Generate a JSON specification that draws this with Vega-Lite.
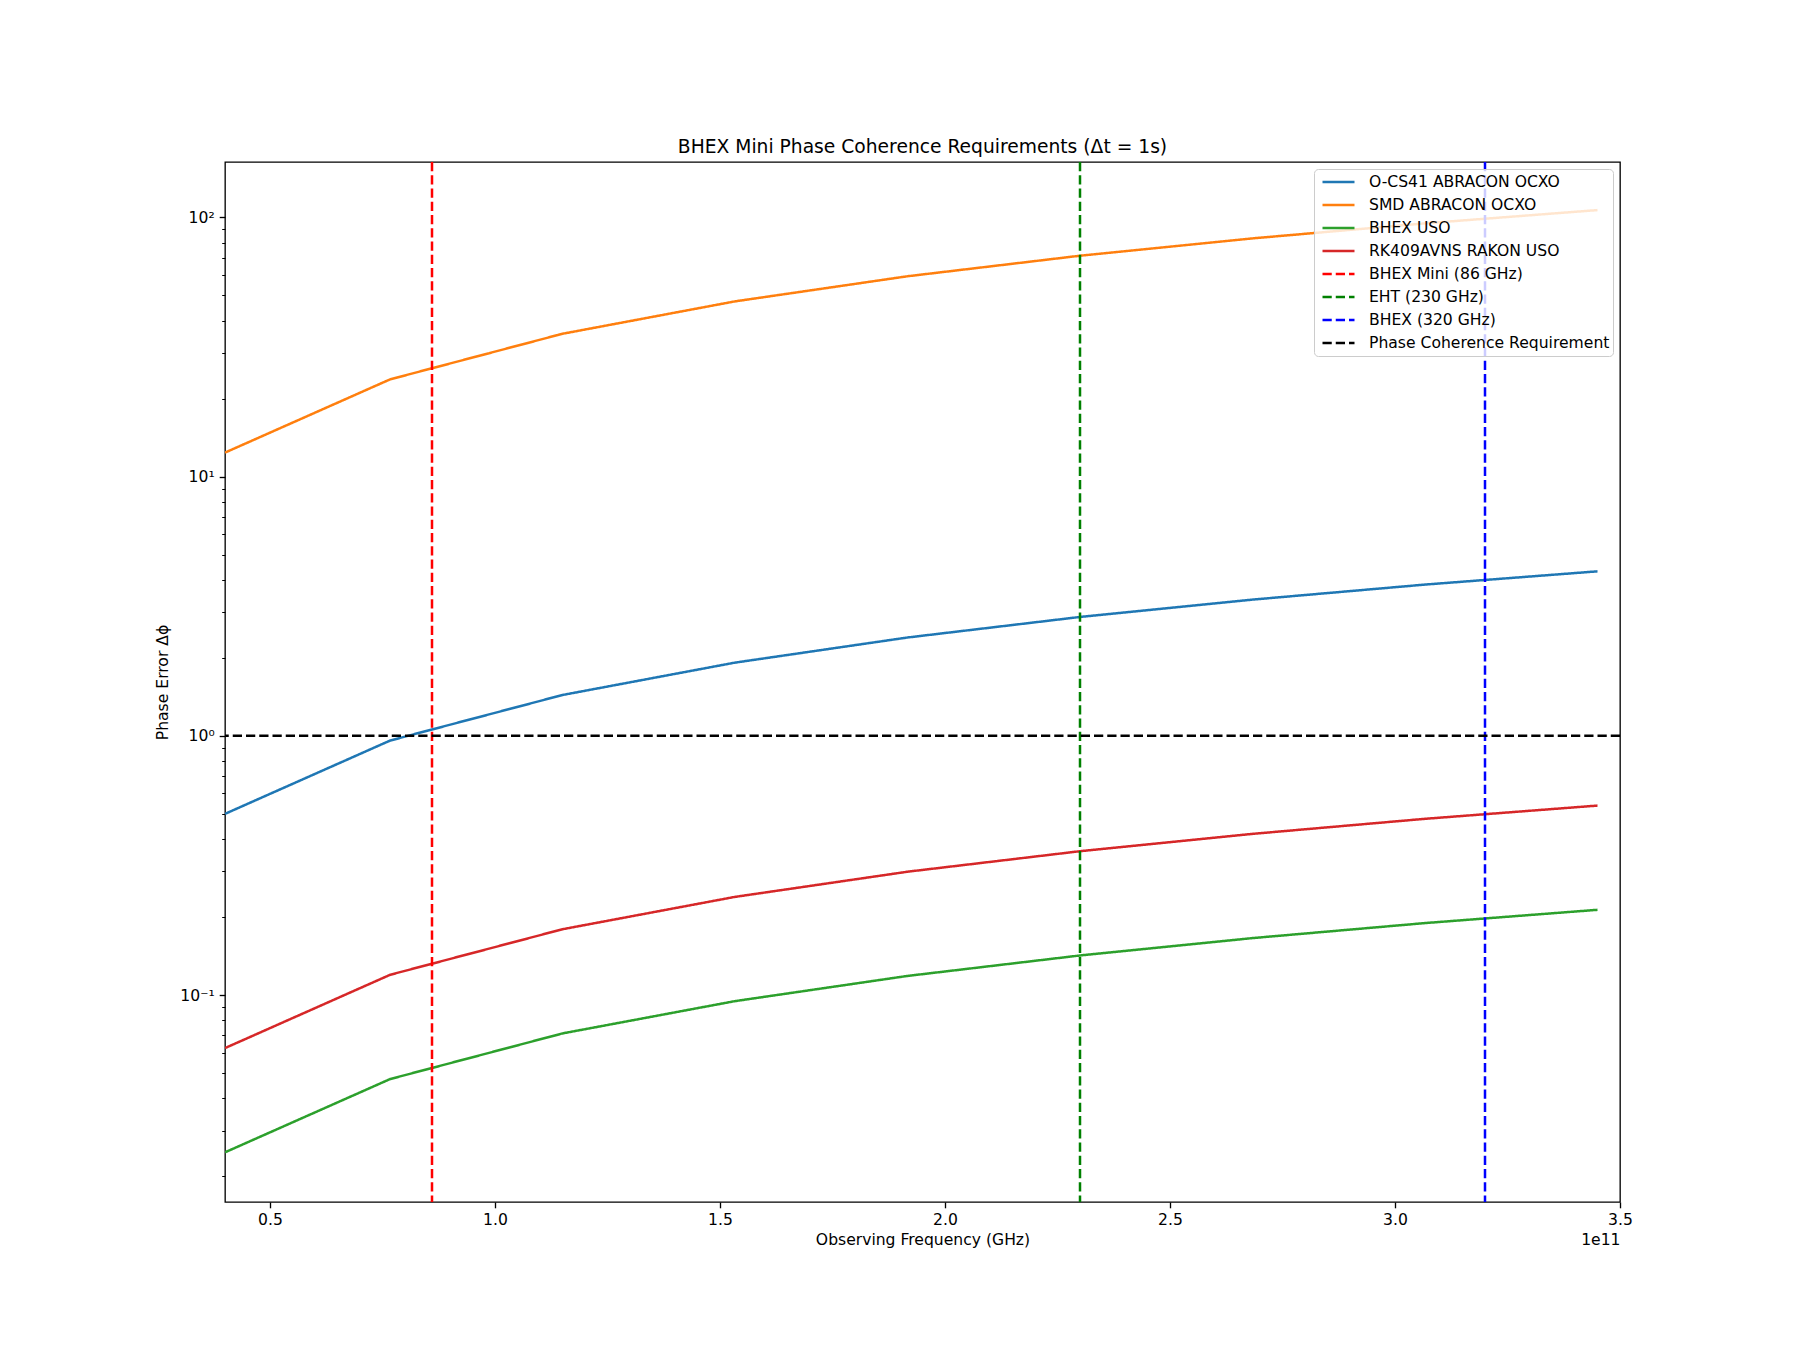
{
  "$schema": "https://vega.github.io/schema/vega-lite/v6.json",
  "width": 1395,
  "height": 1040,
  "autosize": {"type": "none"},
  "padding": {"left": 225, "top": 162, "right": 180, "bottom": 148},
  "background": "white",
  "title": {
    "text": "BHEX Mini Phase Coherence Requirements (Δt = 1s)",
    "font": "DejaVu Sans",
    "fontSize": 18.7,
    "fontWeight": "normal",
    "color": "black",
    "anchor": "middle",
    "offset": 4
  },
  "config": {
    "view": {"stroke": "black", "strokeWidth": 1.33},
    "axis": {
      "labelFont": "DejaVu Sans",
      "titleFont": "DejaVu Sans",
      "labelFontSize": 15.6,
      "titleFontSize": 15.6,
      "titleFontWeight": "normal",
      "labelColor": "black",
      "titleColor": "black",
      "tickColor": "black",
      "tickWidth": 1.33,
      "domain": false,
      "grid": false
    },
    "legend": {
      "labelFont": "DejaVu Sans",
      "labelFontSize": 15.6,
      "labelColor": "black"
    }
  },
  "data": {
    "values": [
      {"kind": "line", "series": "O-CS41 ABRACON OCXO", "freq": 4e10, "phase": 0.5},
      {"kind": "line", "series": "O-CS41 ABRACON OCXO", "freq": 7.67e10, "phase": 0.959},
      {"kind": "line", "series": "O-CS41 ABRACON OCXO", "freq": 1.15e11, "phase": 1.4375},
      {"kind": "line", "series": "O-CS41 ABRACON OCXO", "freq": 1.533e11, "phase": 1.916},
      {"kind": "line", "series": "O-CS41 ABRACON OCXO", "freq": 1.917e11, "phase": 2.396},
      {"kind": "line", "series": "O-CS41 ABRACON OCXO", "freq": 2.3e11, "phase": 2.875},
      {"kind": "line", "series": "O-CS41 ABRACON OCXO", "freq": 2.683e11, "phase": 3.354},
      {"kind": "line", "series": "O-CS41 ABRACON OCXO", "freq": 3.067e11, "phase": 3.834},
      {"kind": "line", "series": "O-CS41 ABRACON OCXO", "freq": 3.45e11, "phase": 4.3125},
      {"kind": "line", "series": "SMD ABRACON OCXO", "freq": 4e10, "phase": 12.38},
      {"kind": "line", "series": "SMD ABRACON OCXO", "freq": 7.67e10, "phase": 23.74},
      {"kind": "line", "series": "SMD ABRACON OCXO", "freq": 1.15e11, "phase": 35.59},
      {"kind": "line", "series": "SMD ABRACON OCXO", "freq": 1.533e11, "phase": 47.45},
      {"kind": "line", "series": "SMD ABRACON OCXO", "freq": 1.917e11, "phase": 59.33},
      {"kind": "line", "series": "SMD ABRACON OCXO", "freq": 2.3e11, "phase": 71.19},
      {"kind": "line", "series": "SMD ABRACON OCXO", "freq": 2.683e11, "phase": 83.04},
      {"kind": "line", "series": "SMD ABRACON OCXO", "freq": 3.067e11, "phase": 94.92},
      {"kind": "line", "series": "SMD ABRACON OCXO", "freq": 3.45e11, "phase": 106.8},
      {"kind": "line", "series": "BHEX USO", "freq": 4e10, "phase": 0.02472},
      {"kind": "line", "series": "BHEX USO", "freq": 7.67e10, "phase": 0.0474},
      {"kind": "line", "series": "BHEX USO", "freq": 1.15e11, "phase": 0.0711},
      {"kind": "line", "series": "BHEX USO", "freq": 1.533e11, "phase": 0.0947},
      {"kind": "line", "series": "BHEX USO", "freq": 1.917e11, "phase": 0.1185},
      {"kind": "line", "series": "BHEX USO", "freq": 2.3e11, "phase": 0.1421},
      {"kind": "line", "series": "BHEX USO", "freq": 2.683e11, "phase": 0.1658},
      {"kind": "line", "series": "BHEX USO", "freq": 3.067e11, "phase": 0.1895},
      {"kind": "line", "series": "BHEX USO", "freq": 3.45e11, "phase": 0.2132},
      {"kind": "line", "series": "RK409AVNS RAKON USO", "freq": 4e10, "phase": 0.0624},
      {"kind": "line", "series": "RK409AVNS RAKON USO", "freq": 7.67e10, "phase": 0.1197},
      {"kind": "line", "series": "RK409AVNS RAKON USO", "freq": 1.15e11, "phase": 0.1794},
      {"kind": "line", "series": "RK409AVNS RAKON USO", "freq": 1.533e11, "phase": 0.2391},
      {"kind": "line", "series": "RK409AVNS RAKON USO", "freq": 1.917e11, "phase": 0.2991},
      {"kind": "line", "series": "RK409AVNS RAKON USO", "freq": 2.3e11, "phase": 0.3588},
      {"kind": "line", "series": "RK409AVNS RAKON USO", "freq": 2.683e11, "phase": 0.4185},
      {"kind": "line", "series": "RK409AVNS RAKON USO", "freq": 3.067e11, "phase": 0.4785},
      {"kind": "line", "series": "RK409AVNS RAKON USO", "freq": 3.45e11, "phase": 0.5382},
      {"kind": "vline", "series": "BHEX Mini (86 GHz)", "freq": 8.6e10},
      {"kind": "vline", "series": "EHT (230 GHz)", "freq": 2.3e11},
      {"kind": "vline", "series": "BHEX (320 GHz)", "freq": 3.2e11},
      {"kind": "hline", "series": "Phase Coherence Requirement", "phase": 1}
    ]
  },
  "layer": [
    {
      "transform": [{"filter": "datum.kind === 'line'"}],
      "mark": {"type": "line", "strokeWidth": 2.5, "clip": true},
      "encoding": {
        "x": {
          "field": "freq", "type": "quantitative",
          "scale": {"domain": [4e10, 3.5e11], "nice": false, "zero": false},
          "axis": {
            "title": "Observing Frequency (GHz)",
            "values": [5e10, 1e11, 1.5e11, 2e11, 2.5e11, 3e11, 3.5e11],
            "labelExpr": "format(datum.value / 1e11, '.1f')",
            "tickSize": 5.8,
            "labelPadding": 5,
            "titlePadding": 4,
            "labelFlush": false,
            "labelOverlap": false
          }
        },
        "y": {
          "field": "phase", "type": "quantitative",
          "scale": {"type": "log", "domain": [0.0159, 163.7], "nice": false},
          "axis": {
            "title": "Phase Error Δϕ",
            "values": [0.1, 1, 10, 100],
            "labelExpr": "datum.value >= 50 ? '10²' : datum.value >= 5 ? '10¹' : datum.value >= 0.5 ? '10⁰' : '10⁻¹'",
            "tickSize": 5.8,
            "labelPadding": 5,
            "titlePadding": 9,
            "labelFlush": false,
            "labelOverlap": false
          }
        },
        "color": {
          "field": "series", "type": "nominal",
          "scale": {
            "domain": ["O-CS41 ABRACON OCXO", "SMD ABRACON OCXO", "BHEX USO", "RK409AVNS RAKON USO", "BHEX Mini (86 GHz)", "EHT (230 GHz)", "BHEX (320 GHz)", "Phase Coherence Requirement"],
            "range": ["#1f77b4", "#ff7f0e", "#2ca02c", "#d62728", "#ff0000", "#008000", "#0000ff", "#000000"]
          },
          "legend": {
            "title": null,
            "orient": "top-right",
            "offset": 7,
            "padding": 3,
            "fillColor": "rgba(255,255,255,0.8)",
            "strokeColor": "#cccccc",
            "cornerRadius": 4,
            "symbolType": "stroke",
            "symbolStrokeWidth": 2.5,
            "symbolSize": 1024,
            "symbolOffset": 4,
            "rowPadding": 3,
            "labelOffset": 13,
            "labelLimit": 400,
            "clipHeight": 20
          }
        },
        "strokeDash": {
          "field": "series", "type": "nominal",
          "scale": {
            "domain": ["O-CS41 ABRACON OCXO", "SMD ABRACON OCXO", "BHEX USO", "RK409AVNS RAKON USO", "BHEX Mini (86 GHz)", "EHT (230 GHz)", "BHEX (320 GHz)", "Phase Coherence Requirement"],
            "range": [[1, 0], [1, 0], [1, 0], [1, 0], [9.25, 4], [9.25, 4], [9.25, 4], [9.25, 4]]
          },
          "legend": {
            "title": null,
            "orient": "top-right",
            "offset": 7,
            "padding": 3,
            "fillColor": "rgba(255,255,255,0.8)",
            "strokeColor": "#cccccc",
            "cornerRadius": 4,
            "symbolType": "stroke",
            "symbolStrokeWidth": 2.5,
            "symbolSize": 1024,
            "symbolOffset": 4,
            "rowPadding": 3,
            "labelOffset": 13,
            "labelLimit": 400,
            "clipHeight": 20
          }
        }
      }
    },
    {
      "transform": [{"filter": "datum.kind === 'vline'"}],
      "mark": {"type": "rule", "strokeWidth": 2.5},
      "encoding": {
        "x": {"field": "freq", "type": "quantitative", "axis": null},
        "color": {"field": "series", "type": "nominal"},
        "strokeDash": {"field": "series", "type": "nominal"}
      }
    },
    {
      "transform": [{"filter": "datum.kind === 'hline'"}],
      "mark": {"type": "rule", "strokeWidth": 2.5},
      "encoding": {
        "y": {"field": "phase", "type": "quantitative", "axis": null},
        "color": {"field": "series", "type": "nominal"},
        "strokeDash": {"field": "series", "type": "nominal"}
      }
    },
    {
      "transform": [{"filter": "datum.kind === 'line'"}],
      "mark": {"type": "point", "opacity": 0},
      "encoding": {
        "x": {
          "field": "freq", "type": "quantitative",
          "axis": {
            "orient": "bottom",
            "title": "1e11",
            "labels": false,
            "ticks": false,
            "titleAnchor": "end",
            "titleAlign": "right",
            "titleBaseline": "middle",
            "titleX": 1395,
            "titleY": 37
          }
        },
        "y": {
          "field": "phase", "type": "quantitative",
          "axis": {
            "orient": "left",
            "title": null,
            "labels": false,
            "tickSize": 3.3,
            "tickWidth": 1,
            "values": [0.02, 0.03, 0.04, 0.05, 0.06, 0.07, 0.08, 0.09, 0.2, 0.3, 0.4, 0.5, 0.6, 0.7, 0.8, 0.9, 2, 3, 4, 5, 6, 7, 8, 9, 20, 30, 40, 50, 60, 70, 80, 90]
          }
        }
      }
    }
  ],
  "resolve": {"axis": {"x": "independent", "y": "independent"}}
}
